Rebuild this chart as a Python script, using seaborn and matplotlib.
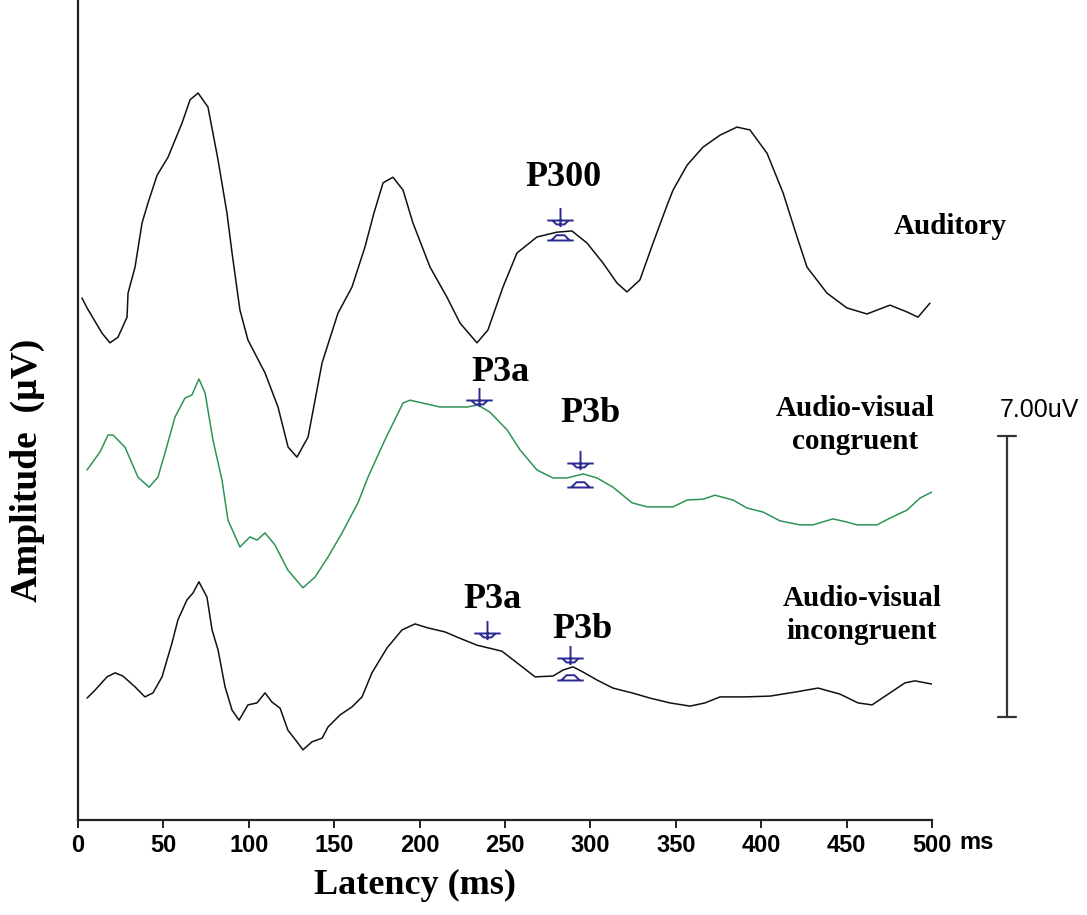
import numpy as np
import pandas as pd
import matplotlib
matplotlib.use("Agg")
import matplotlib.pyplot as plt
from matplotlib.path import Path
import seaborn as sns

# ---------------- data (latency in ms, amplitude in uV) ----------------
aud_lat = [2.3, 5.3, 14.1, 18.7, 23.4, 28.7, 29.3, 33.4, 37.5, 41.0, 46.3, 52.7, 60.9, 65.6,
           70.3, 76.1, 82.0, 87.2, 90.2, 94.8, 99.5, 109.5, 117.1, 123.0, 128.2, 134.7, 142.9,
           152.2, 160.4, 168.0, 173.3, 178.6, 184.4, 190.3, 196.1, 206.1, 216.0, 223.7, 233.6,
           240.0, 248.8, 257.0, 268.7, 280.4, 289.2, 298.0, 307.4, 315.6, 321.4, 329.0, 336.7,
           345.4, 348.4, 356.6, 365.9, 375.9, 385.8, 393.4, 403.4, 412.8, 421.0, 426.8, 438.5,
           450.2, 461.9, 475.4, 485.4, 491.8, 498.8]
aud_amp = [0.02, -0.23, -0.86, -1.10, -0.96, -0.46, 0.14, 0.79, 1.89, 2.39, 3.08, 3.53, 4.38, 4.96,
           5.13, 4.78, 3.46, 2.14, 1.14, -0.28, -1.03, -1.85, -2.70, -3.70, -3.95, -3.45, -1.60,
           -0.36, 0.29, 1.29, 2.14, 2.89, 3.03, 2.71, 1.89, 0.79, 0.04, -0.61, -1.10,
           -0.78, 0.29, 1.14, 1.54, 1.66, 1.69, 1.39, 0.89, 0.39, 0.17, 0.47, 1.39,
           2.39, 2.71, 3.33, 3.78, 4.08, 4.28, 4.21, 3.63, 2.64, 1.54, 0.79, 0.14,
           -0.23, -0.38, -0.16, -0.33, -0.46, -0.11]

con_lat = [5.3, 12.9, 17.6, 20.5, 27.5, 35.1, 41.6, 46.8, 50.9, 56.8, 62.6, 66.7, 70.8, 74.4,
           79.0, 84.3, 87.8, 94.8, 100.7, 104.8, 109.5, 115.3, 122.9, 131.7, 138.8, 146.4,
           154.6, 163.9, 169.8, 179.7, 190.3, 194.4, 211.9, 227.8, 234.2, 241.2, 251.2, 258.8,
           268.7, 278.1, 286.3, 295.7, 303.9, 313.2, 324.4, 333.1, 348.4, 356.6, 365.9, 372.9,
           383.5, 391.7, 401.1, 411.0, 422.7, 430.3, 442.0, 450.2, 456.1, 467.8, 475.4, 485.4,
           493.0, 500.0]
con_amp = [1.23, 1.68, 2.10, 2.10, 1.80, 1.05, 0.80, 1.05, 1.65, 2.55, 3.02, 3.10, 3.50, 3.15,
           1.98, 0.98, -0.02, -0.69, -0.44, -0.52, -0.34, -0.64, -1.27, -1.71, -1.44, -0.94,
           -0.34, 0.41, 1.05, 1.98, 2.90, 2.97, 2.80, 2.80, 2.85, 2.67, 2.23, 1.73,
           1.23, 1.03, 1.03, 1.13, 1.03, 0.80, 0.41, 0.31, 0.31, 0.48, 0.50, 0.60,
           0.48, 0.28, 0.18, -0.04, -0.14, -0.14, 0.01, -0.07, -0.14, -0.14, 0.03, 0.23,
           0.53, 0.68]

inc_lat = [5.3, 10.0, 17.0, 21.7, 26.3, 33.4, 39.2, 43.9, 49.2, 55.0, 58.5, 63.8, 67.3, 70.8,
           75.5, 78.5, 82.0, 86.1, 90.2, 94.3, 99.5, 104.8, 109.5, 113.6, 118.3, 122.9, 128.2,
           131.7, 137.0, 142.9, 146.4, 153.4, 160.4, 166.3, 172.1, 180.9, 189.7, 197.3, 204.9,
           214.9, 222.0, 233.6, 248.2, 257.0, 267.6, 278.1, 284.0, 289.8, 295.7, 303.9, 313.2,
           324.4, 334.9, 346.6, 358.3, 367.1, 375.9, 390.5, 405.2, 419.8, 433.3, 446.1, 456.7,
           464.9, 475.4, 484.2, 490.0, 500.0]
inc_amp = [0.04, 0.24, 0.57, 0.67, 0.59, 0.32, 0.07, 0.17, 0.57, 1.41, 1.99, 2.49, 2.66, 2.94,
           2.56, 1.74, 1.24, 0.32, -0.26, -0.51, -0.13, -0.08, 0.17, -0.06, -0.21, -0.76, -1.05,
           -1.25, -1.05, -0.96, -0.68, -0.38, -0.18, 0.07, 0.67, 1.29, 1.74, 1.89, 1.79,
           1.69, 1.56, 1.36, 1.21, 0.92, 0.57, 0.59, 0.74, 0.82, 0.69, 0.49, 0.29,
           0.17, 0.04, -0.08, -0.16, -0.08, 0.07, 0.07, 0.09, 0.19, 0.29, 0.14, -0.08,
           -0.13, 0.17, 0.42, 0.47, 0.39]

conditions = ["Auditory", "Audio-visual\ncongruent", "Audio-visual\nincongruent"]
x_ticks = [0, 50, 100, 150, 200, 250, 300, 350, 400, 450, 500]
scale_uv = 7.0

# peak marks: (condition, label, latency ms, amplitude uV)
peak_names = ["P300", "P3a", "P3b", "P3a", "P3b"]
peak_cond = [0, 1, 1, 2, 2]
peak_lat = [282.2, 234.8, 293.9, 239.5, 288.1]
peak_amp = [1.96, 2.97, 1.40, 1.66, 1.04]
dome_lat = [282.2, 293.9, 288.1]
dome_amp = [1.46, 0.80, 0.49]
dome_cond = [0, 1, 2]

# ---------------- layout / style ----------------
offsets = {0: 13.0, 1: 7.5, 2: 3.0}
colors = {conditions[0]: "#111111", conditions[1]: "#2e9455", conditions[2]: "#111111"}
navy = "#2a2a90"
narrow = ["Liberation Sans Narrow", "Liberation Sans"]

sns.set_theme(style="white")
plt.rcParams["font.family"] = ["Liberation Serif", "DejaVu Serif"]
plt.rcParams["text.color"] = "black"
plt.rcParams["axes.labelcolor"] = "black"
plt.rcParams["xtick.color"] = "black"

frames = []
for i, (lat, amp) in enumerate([(aud_lat, aud_amp), (con_lat, con_amp), (inc_lat, inc_amp)]):
    frames.append(pd.DataFrame({"latency": lat,
                                "amp": np.array(amp) + offsets[i],
                                "condition": conditions[i]}))
df = pd.concat(frames, ignore_index=True)

fig = plt.figure(figsize=(10.87, 9.15), dpi=100)
ax = fig.add_axes([78 / 1087, 95 / 915, 854 / 1087, 820 / 915])

sns.lineplot(data=df, x="latency", y="amp", hue="condition", palette=colors,
             estimator=None, sort=False, units="condition", linewidth=1.1,
             legend=False, ax=ax)

ax.set_xlim(0, 500)
ax.set_ylim(0, 20.45)

for s in ["top", "right"]:
    ax.spines[s].set_visible(False)
for s in ["left", "bottom"]:
    ax.spines[s].set_color("#222222")
    ax.spines[s].set_linewidth(1.6)

ax.set_yticks([])
ax.set_xticks(x_ticks)
ax.set_xticklabels([str(t) for t in x_ticks], family=narrow, fontsize=17, fontweight="bold")
ax.tick_params(axis="x", direction="out", length=6, width=1.4, color="#222222", pad=4,
               bottom=True, labelcolor="black")
ax.annotate("ms", xy=(500, 0), xycoords=("data", "axes fraction"), xytext=(27, -11),
            textcoords="offset pixels", ha="left", va="top", fontsize=17, fontweight="bold",
            family=narrow)

ax.set_xlabel("Latency (ms)", fontsize=26, fontweight="bold")
ax.xaxis.set_label_coords((415 - 78) / 854, (820 - 885) / 820)
ax.xaxis.label.set_va("center")
ax.set_ylabel("Amplitude  (\u00b5V)", fontsize=27, fontweight="bold")
ax.yaxis.set_label_coords((27 - 78) / 854, (820 - 470) / 820)
ax.yaxis.label.set_va("center")

# peak markers
stem = Path([(0, 0.95), (0, -0.5), (-1, 0), (1, 0), (-0.6, 0), (-0.3, -0.3), (0.3, -0.3), (0.6, 0)],
            [Path.MOVETO, Path.LINETO, Path.MOVETO, Path.LINETO,
             Path.MOVETO, Path.LINETO, Path.LINETO, Path.LINETO])
dome = Path([(-1, 0), (1, 0), (-0.7, 0), (-0.3, 0.4), (0.3, 0.4), (0.7, 0)],
            [Path.MOVETO, Path.LINETO, Path.MOVETO, Path.LINETO, Path.LINETO, Path.LINETO])

pk_y = [a + offsets[c] for a, c in zip(peak_amp, peak_cond)]
ax.plot(peak_lat, pk_y, linestyle="none", marker=stem, markersize=19,
        markeredgecolor=navy, markerfacecolor="none", markeredgewidth=1.4, clip_on=False)
dm_y = [a + offsets[c] for a, c in zip(dome_amp, dome_cond)]
ax.plot(dome_lat, dm_y, linestyle="none", marker=dome, markersize=19,
        markeredgecolor=navy, markerfacecolor="none", markeredgewidth=1.4, clip_on=False)

# peak labels
label_pos = [(284.0, 16.03), (247.1, 11.17), (299.8, 10.15), (242.4, 5.49), (295.1, 4.74)]
for name, (lx, ly) in zip(peak_names, label_pos):
    ax.text(lx, ly, name, ha="center", va="center", fontsize=26, fontweight="bold")

# condition labels
cond_pos = [(510.5, 14.79), (455.0, 9.85), (459.0, 5.11)]
for name, (cx, cy) in zip(conditions, cond_pos):
    ax.text(cx, cy, name, ha="center", va="center", fontsize=21, fontweight="bold",
            linespacing=1.25, clip_on=False)

# 7 uV scale bar
bar_x, bar_lo = 543.9, 2.57
ax.plot([bar_x, bar_x], [bar_lo, bar_lo + scale_uv], color="#333333", lw=1.6, clip_on=False)
for yy in (bar_lo, bar_lo + scale_uv):
    ax.plot([bar_x - 5.5, bar_x + 5.5], [yy, yy], color="#333333", lw=1.6, clip_on=False)
ax.text(563.0, 10.22, f"{scale_uv:.2f}uV", ha="center", va="center", fontsize=18,
        family=["Liberation Sans", "DejaVu Sans"], clip_on=False)

fig.savefig("out.png", dpi=100, facecolor="white")
